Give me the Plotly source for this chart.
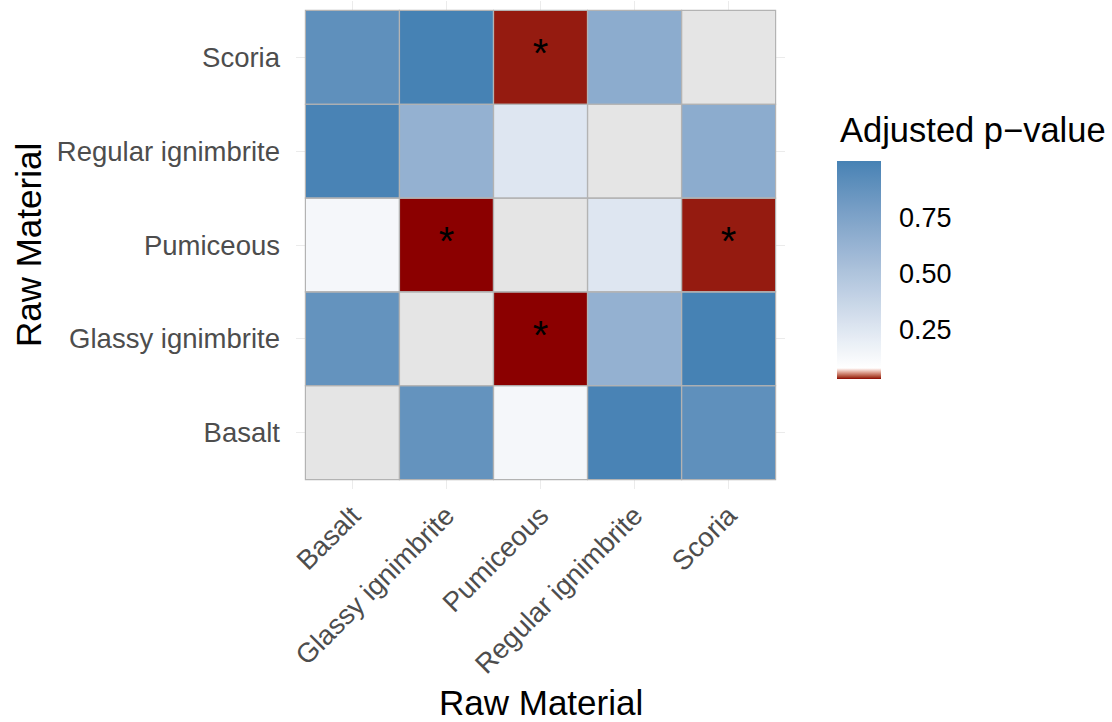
import plotly.graph_objects as go

# ---------------- data ----------------
materials = ["Basalt", "Glassy ignimbrite", "Pumiceous", "Regular ignimbrite", "Scoria"]

# adjusted p-values; rows = y category (same order as materials), cols = x category
p_basalt = [None, 0.87, 0.13, 0.99, 0.895]
p_glassy = [0.87, None, 0.029, 0.637, 1.0]
p_pumiceous = [0.13, 0.029, None, 0.252, 0.032]
p_regular = [0.99, 0.637, 0.252, None, 0.677]
p_scoria = [0.895, 1.0, 0.032, 0.677, None]

pvals = [p_basalt, p_glassy, p_pumiceous, p_regular, p_scoria]
sig_level = 0.05

colorbar_ticks = [0.25, 0.50, 0.75]
colorbar_ticktext = ["0.25", "0.50", "0.75"]

# ---------------- colour scale (Lab interpolation like ggplot) ----------------
def _s2l(c):
    c = c / 255.0
    return c / 12.92 if c <= 0.04045 else ((c + 0.055) / 1.055) ** 2.4


def _l2s(c):
    v = 12.92 * c if c <= 0.0031308 else 1.055 * (max(c, 0) ** (1 / 2.4)) - 0.055
    return int(min(255, max(0, round(v * 255))))


WHITE = (0.95047, 1.0, 1.08883)


def rgb2lab(rgb):
    r, g, b = (_s2l(v) for v in rgb)
    X = (0.4124 * r + 0.3576 * g + 0.1805 * b) / WHITE[0]
    Y = (0.2126 * r + 0.7152 * g + 0.0722 * b) / WHITE[1]
    Z = (0.0193 * r + 0.1192 * g + 0.9505 * b) / WHITE[2]
    f = lambda t: t ** (1 / 3) if t > 0.008856 else 7.787 * t + 16 / 116
    fx, fy, fz = f(X), f(Y), f(Z)
    return (116 * fy - 16, 500 * (fx - fy), 200 * (fy - fz))


def lab2rgb(lab):
    L, a, b = lab
    fy = (L + 16) / 116
    fx = fy + a / 500
    fz = fy - b / 200
    finv = lambda t: t ** 3 if t ** 3 > 0.008856 else (t - 16 / 116) / 7.787
    X, Y, Z = finv(fx) * WHITE[0], finv(fy) * WHITE[1], finv(fz) * WHITE[2]
    r = 3.2406 * X - 1.5372 * Y - 0.4986 * Z
    g = -0.9689 * X + 1.8758 * Y + 0.0415 * Z
    bb = 0.0557 * X - 0.2040 * Y + 1.0570 * Z
    return "rgb(%d,%d,%d)" % (_l2s(r), _l2s(g), _l2s(bb))


anchors = [(0.0, (139, 0, 0)), (0.05, (255, 255, 255)), (1.0, (70, 130, 180))]
colorscale = []
for k in range(len(anchors) - 1):
    p0, c0 = anchors[k]
    p1, c1 = anchors[k + 1]
    l0, l1 = rgb2lab(c0), rgb2lab(c1)
    n = 12 if k == 0 else 40
    for s in range(n + (1 if k == len(anchors) - 2 else 0)):
        t = s / n
        lab = tuple(l0[i] + (l1[i] - l0[i]) * t for i in range(3))
        colorscale.append([p0 + (p1 - p0) * t, lab2rgb(lab)])

# ---------------- figure ----------------
FONT = "Liberation Sans, Arial, Helvetica, sans-serif"
W, H = 1112, 722
ML, MR, MT, MB = 296, 327, 1, 233
plot_w, plot_h = W - ML - MR, H - MT - MB

z = [[float("nan") if v is None else v for v in row] for row in pvals]
z_na = [[1 if v is None else None for v in row] for row in pvals]
flat = [v for row in pvals for v in row if v is not None]
zmin, zmax = min(flat), max(flat)

CB_X, CB_Y = 1.1054, 0.4489
CB_THICK, CB_LEN = 44, 218

fig = go.Figure()

fig.add_trace(go.Heatmap(
    z=z_na, x=materials, y=materials,
    colorscale=[[0, "#E5E5E5"], [1, "#E5E5E5"]],
    showscale=False, hoverinfo="skip",
))

fig.add_trace(go.Heatmap(
    z=z, x=materials, y=materials,
    colorscale=colorscale, zmin=zmin, zmax=zmax,
    hoverongaps=False,
    colorbar=dict(
        x=CB_X, xanchor="left", xpad=0,
        y=CB_Y, yanchor="middle", ypad=0,
        thickness=CB_THICK, thicknessmode="pixels",
        len=CB_LEN, lenmode="pixels",
        outlinewidth=0,
        tickvals=colorbar_ticks, ticktext=colorbar_ticktext,
        ticks="outside", ticklen=13, tickcolor="rgba(0,0,0,0)",
        tickfont=dict(family=FONT, size=27, color="black"),
    ),
))

# tile outlines
shapes = []
for i in range(len(materials)):
    for j in range(len(materials)):
        shapes.append(dict(
            type="rect", xref="x", yref="y",
            x0=j - 0.5, x1=j + 0.5, y0=i - 0.5, y1=i + 0.5,
            line=dict(color="#B3B3B3", width=1.2), layer="above",
        ))

# white tick marks inside the colour bar (ggplot style, both edges)
cb_bottom = CB_Y - (CB_LEN / 2) / plot_h
cb_left = CB_X
cb_right = CB_X + CB_THICK / plot_w
tick_w = 7 / plot_w
for v in colorbar_ticks:
    yy = cb_bottom + (v - zmin) / (zmax - zmin) * CB_LEN / plot_h
    for xa, xb in ((cb_left, cb_left + tick_w), (cb_right - tick_w, cb_right)):
        shapes.append(dict(
            type="line", xref="paper", yref="paper",
            x0=xa, x1=xb, y0=yy, y1=yy,
            line=dict(color="white", width=1.2), layer="above",
        ))

# significance stars
sx, sy = [], []
for i, row in enumerate(pvals):
    for j, v in enumerate(row):
        if v is not None and v < sig_level:
            sx.append(materials[j])
            sy.append(materials[i])
fig.add_trace(go.Scatter(
    x=sx, y=sy, mode="text", text=["*"] * len(sx),
    textposition="middle center",
    textfont=dict(family=FONT, size=40, color="black"),
    showlegend=False, hoverinfo="skip",
))

axis_common = dict(
    type="category", categoryorder="array", categoryarray=materials,
    range=[-0.6, len(materials) - 0.4],
    showgrid=True, gridcolor="#EBEBEB", gridwidth=1.1,
    zeroline=False, showline=False, ticks="",
    tickfont=dict(family=FONT, size=27.5, color="#4D4D4D"),
    fixedrange=True,
)

fig.update_layout(
    width=W, height=H,
    margin=dict(l=ML, r=MR, t=MT, b=MB),
    paper_bgcolor="white", plot_bgcolor="white",
    xaxis=dict(axis_common, tickangle=-45, ticklabelstandoff=4),
    yaxis=dict(axis_common, ticklabelstandoff=15),
    shapes=shapes,
    showlegend=False,
    annotations=[
        dict(text="Raw Material", xref="paper", yref="paper", x=0.5, y=-0.4375,
             xanchor="center", yanchor="middle", showarrow=False,
             font=dict(family=FONT, size=35, color="black")),
        dict(text="Raw Material", xref="paper", yref="paper", x=-0.548, y=0.5,
             xanchor="center", yanchor="middle", showarrow=False, textangle=-90,
             font=dict(family=FONT, size=35, color="black")),
        dict(text="Adjusted p\u2212value", xref="paper", yref="paper", x=1.1074, y=0.7353,
             xanchor="left", yanchor="middle", showarrow=False,
             font=dict(family=FONT, size=34.5, color="black")),
    ],
)

fig.write_html("out.html")
